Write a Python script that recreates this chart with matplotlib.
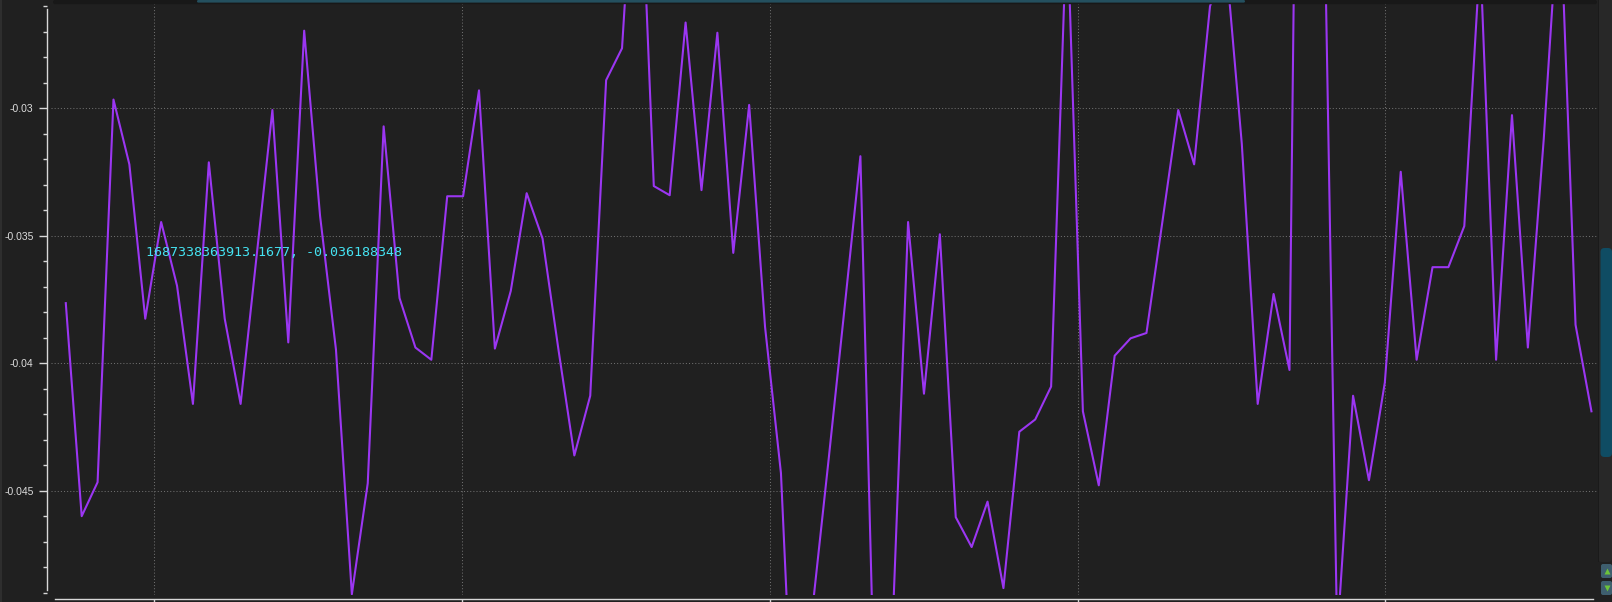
import numpy as np
import matplotlib
matplotlib.use("Agg")
import matplotlib.pyplot as plt
from matplotlib.patches import FancyBboxPatch, Rectangle
from matplotlib.ticker import MultipleLocator, FuncFormatter

# samples, one per step (view is zoomed in, some points fall outside)
values = [
    -0.03764, -0.04599, -0.04466, -0.02966, -0.03220, -0.03825, -0.03446, -0.03696,
    -0.04159, -0.03212, -0.03825, -0.04159, -0.03583, -0.03007, -0.03918, -0.02696,
    -0.03422, -0.03946, -0.04905, -0.04470, -0.03071, -0.03744, -0.03938, -0.03986,
    -0.03345, -0.03345, -0.02930, -0.03942, -0.03716, -0.03333, -0.03511, -0.03946,
    -0.04361, -0.04127, -0.02890, -0.02765, -0.01769, -0.03305, -0.03341, -0.02664,
    -0.03321, -0.02704, -0.03567, -0.02987, -0.03857, -0.04430, -0.05800, -0.04953,
    -0.04377, -0.03785, -0.03188, -0.05598, -0.05074, -0.03446, -0.04119, -0.03494,
    -0.04603, -0.04720, -0.04542, -0.04881, -0.04268, -0.04220, -0.04091, -0.02249,
    -0.04188, -0.04478, -0.03970, -0.03902, -0.03881, -0.03446, -0.03007, -0.03220,
    -0.02600, -0.02418, -0.03140, -0.04159, -0.03728, -0.04026, 0.01455, -0.01515,
    -0.05074, -0.04127, -0.04458, -0.04075, -0.03249, -0.03986, -0.03623, -0.03623,
    -0.03462, -0.02402, -0.03986, -0.03027, -0.03938, -0.03120, -0.02152, -0.03849,
    -0.04188,
]
sample = np.arange(len(values))

time_grid = [5.57, 24.94, 44.30, 63.67, 83.04]
x_view = (-0.95, 96.35)
y_view = (-0.04908, -0.02593)

cursor_label = "1687338363913.1677, -0.036188348"
cursor_x, cursor_y = 5.05, -0.03567

W, H = 1612, 602
BG = "#202020"
AXIS = "#d8d8d8"

fig = plt.figure(figsize=(W / 100, H / 100), dpi=100, facecolor=BG)
ax = fig.add_axes([50.7 / W, (H - 595) / H, (1597 - 50.7) / W, (595 - 4.4) / H])
ax.set_facecolor(BG)

ax.plot(sample, values, color="#9b36f2", lw=1.5, zorder=3)
ax.set_xlim(*x_view)
ax.set_ylim(*y_view)

# axes like pyqtgraph: detached left/bottom lines
for s in ("top", "right"):
    ax.spines[s].set_visible(False)
ax.spines["left"].set_position(("outward", 3.0))
ax.spines["left"].set_bounds(-0.04888, -0.02611)
ax.spines["bottom"].set_position(("outward", 3.1))
ax.spines["bottom"].set_bounds(-0.68, 96.1)
for s in ("left", "bottom"):
    ax.spines[s].set_color(AXIS)
    ax.spines[s].set_linewidth(1.0)

ax.yaxis.set_major_locator(MultipleLocator(0.005))
ax.yaxis.set_minor_locator(MultipleLocator(0.001))
ax.yaxis.set_major_formatter(FuncFormatter(lambda v, p: f"{v:g}"))
ax.set_xticks(time_grid)
ax.tick_params(axis="y", which="major", length=5.8, width=1.0, color=AXIS,
               labelcolor="#dcdcdc", labelsize=7.5, pad=3.6)
ax.tick_params(axis="y", which="minor", length=2.9, width=1.0, color=AXIS)
ax.tick_params(axis="x", length=4, width=1.0, color=AXIS, labelbottom=False)
for lab in ax.get_yticklabels():
    lab.set_family("Liberation Sans")

ax.grid(True, which="major", color="#6e6e6e", lw=0.75, linestyle=(0, (1, 2)), zorder=1)
ax.set_axisbelow(True)

ax.text(cursor_x, cursor_y, cursor_label, color="#45e3f2", fontsize=9.6,
        family="DejaVu Sans Mono", ha="left", va="center", zorder=4)

# window chrome: scrollbars around the plot
deco = fig.add_axes([0, 0, 1, 1], zorder=5)
deco.set_xlim(0, W)
deco.set_ylim(H, 0)
deco.axis("off")
deco.patch.set_visible(False)

deco.add_patch(Rectangle((0, 0), 1.5, H, color="#2e2e2e", lw=0))
deco.add_patch(FancyBboxPatch((53, 0), 1544, 4.2, boxstyle="round,pad=0,rounding_size=2",
                              color="#181818", lw=0))
deco.add_patch(FancyBboxPatch((197, 0), 1048, 2.6, boxstyle="round,pad=0,rounding_size=1.3",
                              color="#24505f", lw=0))

deco.add_patch(FancyBboxPatch((1598, -4), 14, 566, boxstyle="round,pad=0,rounding_size=4",
                              color="#282828", lw=0))
deco.add_patch(Rectangle((1597.5, 0), 1, 562, color="#1a1a1a", lw=0))
deco.add_patch(FancyBboxPatch((1600.5, 248), 11.5, 209, boxstyle="round,pad=0,rounding_size=4",
                              color="#0f4c63", lw=0))
for top, mk in ((564, "^"), (581, "v")):
    deco.add_patch(FancyBboxPatch((1601, top), 11, 14, boxstyle="round,pad=0,rounding_size=2",
                                  color="#3e5e6e", lw=0))
    deco.plot(1606.5, top + 7, marker=mk, ms=5, color="#6cc33a", mec="none")

fig.savefig("out.png", dpi=100, facecolor=BG)
